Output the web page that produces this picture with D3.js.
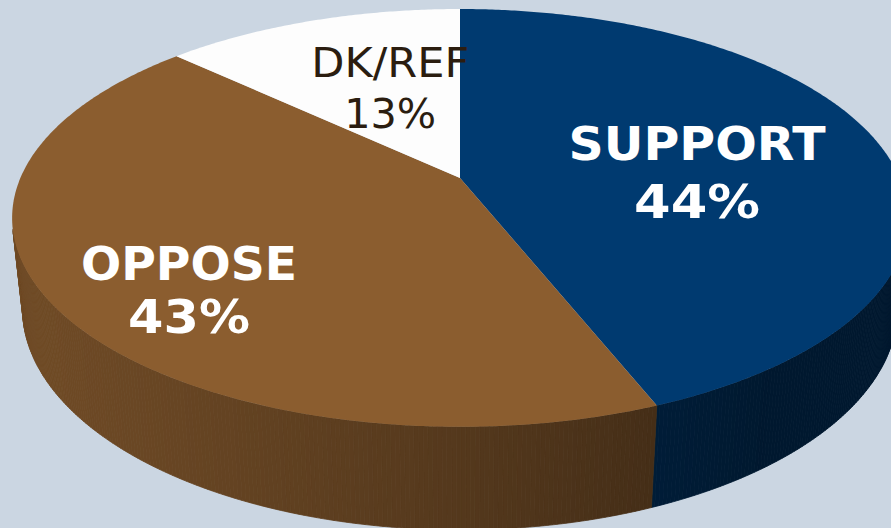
<!DOCTYPE html>
<html>
<head>
<meta charset="utf-8">
<script src="https://cdn.jsdelivr.net/npm/d3@7"></script>
<style>
  html, body { margin: 0; padding: 0; background: #cbd6e2; }
  svg { display: block; }
</style>
</head>
<body>
<div id="chart"></div>
<script>
const width = 891;
const height = 528;

// data
const categories = ["SUPPORT", "OPPOSE", "DK/REF"];
const values = [44, 43, 13];
const topColors = ["#003a70", "#8b5d2f", "#fdfdfd"];
const textColors = ["#ffffff", "#ffffff", "#2b1d10"];

// camera for the 3d pie (fitted to the reference)
const cx = 460, cy = 178;
const F = 2046;          // focal length in px
const dist = 4.654;      // camera distance, in pie radii
const sphi = 0.4578, cphi = Math.sqrt(1 - sphi * sphi);
const depth = 0.234;     // pie thickness, in pie radii

function project(a, r, z) {
    const X = r * Math.sin(a), Y = r * Math.cos(a);
    const yc = (Y + dist * cphi) * sphi + (z - dist * sphi) * cphi;
    const zc = (Y + dist * cphi) * cphi - (z - dist * sphi) * sphi;
    return [cx + F * X / zc, cy - F * yc / zc];
}

const svg = d3.select("#chart").append("svg")
    .attr("width", width)
    .attr("height", height)
    .attr("viewBox", "0 0 " + width + " " + height);

svg.append("rect")
    .attr("width", width)
    .attr("height", height)
    .attr("fill", "#cbd6e2");

const arcs = d3.pie().sort(null).value(d => d)(values);
const line = d3.line();

// wall shading, light coming from the left
function shade(color, a) {
    const dot = -0.8 * Math.sin(a) - 0.3 * Math.cos(a);
    const f = Math.max(0.42, 0.5 + 0.35 * dot);
    const c = d3.rgb(color);
    return d3.rgb(c.r * f, c.g * f, c.b * f).formatHex();
}

// visible outer walls, in thin strips
const walls = svg.append("g").attr("class", "walls");
const step = Math.PI / 360;
arcs.forEach(function (d, i) {
    for (let a = d.startAngle; a < d.endAngle - 1e-9; a += step) {
        const b = Math.min(a + step, d.endAngle);
        const m = (a + b) / 2;
        // only the side that faces the camera
        if (Math.cos(m) > -1 / (dist * cphi)) continue;
        const col = shade(topColors[i], m);
        walls.append("path")
            .attr("d", line([project(a, 1, 0), project(b, 1, 0),
                             project(b, 1, -depth), project(a, 1, -depth)]) + "Z")
            .attr("fill", col)
            .attr("stroke", col)
            .attr("stroke-width", 0.8);
    }
});

// top faces
svg.append("g").attr("class", "tops")
    .selectAll("path")
    .data(arcs)
    .enter().append("path")
    .attr("d", function (d) {
        const pts = [project(0, 0, 0)];
        const n = Math.max(8, Math.ceil((d.endAngle - d.startAngle) / (Math.PI / 360)));
        for (let k = 0; k <= n; k++) {
            const a = d.startAngle + (d.endAngle - d.startAngle) * k / n;
            pts.push(project(a, 1, 0));
        }
        return line(pts) + "Z";
    })
    .attr("fill", (d, i) => topColors[i]);

// labels: anchored on the projected mid angle of each slice
const labelLayout = [
    { rho: 0.56, dy: 3,   gap: 58, size: 46, weight: "bold",   w1: 257, w2: 126 },
    { rho: 0.69, dy: 18,  gap: 53, size: 47, weight: "bold",   w1: 216, w2: 122 },
    { rho: 0.43, dy: -27, gap: 51, size: 41, weight: "normal", w1: 158, w2: 92 }
];

const labels = svg.append("g").attr("class", "labels")
    .selectAll("g")
    .data(arcs)
    .enter().append("g")
    .attr("transform", function (d, i) {
        const p = project((d.startAngle + d.endAngle) / 2, labelLayout[i].rho, 0);
        return "translate(" + p[0] + "," + p[1] + ")";
    })
    .style("font-family", "'DejaVu Sans', Verdana, sans-serif")
    .attr("text-anchor", "middle")
    .attr("fill", (d, i) => textColors[i]);

labels.append("text")
    .attr("y", (d, i) => labelLayout[i].dy)
    .style("font-size", (d, i) => labelLayout[i].size + "px")
    .style("font-weight", (d, i) => labelLayout[i].weight)
    .attr("textLength", (d, i) => labelLayout[i].w1)
    .attr("lengthAdjust", "spacingAndGlyphs")
    .text((d, i) => categories[i]);

labels.append("text")
    .attr("y", (d, i) => labelLayout[i].dy + labelLayout[i].gap)
    .style("font-size", (d, i) => labelLayout[i].size + "px")
    .style("font-weight", (d, i) => labelLayout[i].weight)
    .attr("textLength", (d, i) => labelLayout[i].w2)
    .attr("lengthAdjust", "spacingAndGlyphs")
    .text(d => d.value + "%");
</script>
</body>
</html>
